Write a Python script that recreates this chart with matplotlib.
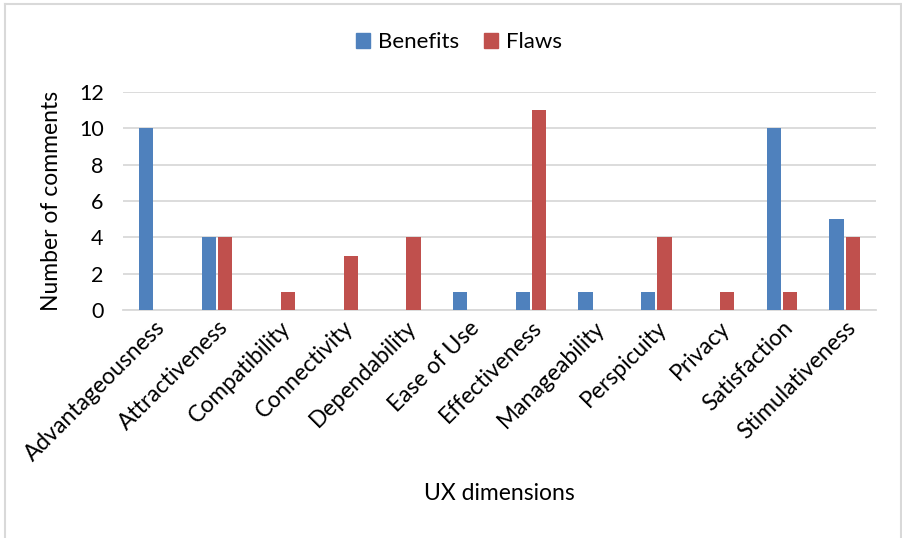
import matplotlib
matplotlib.use("Agg")
import matplotlib.pyplot as plt
import numpy as np
from matplotlib.lines import Line2D

plt.rcParams['font.family'] = ['Lato', 'DejaVu Sans']

categories = ["Advantageousness", "Attractiveness", "Compatibility", "Connectivity",
              "Dependability", "Ease of Use", "Effectiveness", "Manageability",
              "Perspicuity", "Privacy", "Satisfaction", "Stimulativeness"]
benefits = [10, 4, 0, 0, 0, 1, 1, 1, 1, 0, 10, 5]
flaws = [0, 4, 1, 3, 4, 0, 11, 0, 4, 1, 1, 4]
y_ticks = [0, 2, 4, 6, 8, 10, 12]

blue = "#4F81BD"
red = "#C0504D"

fig = plt.figure(figsize=(9.03, 5.38), dpi=100)
ax = fig.add_axes([123 / 903, 1 - 310 / 538, (876 - 123) / 903, (310 - 92) / 538])

x = np.arange(len(categories))
w = 0.23
ax.bar(x - 0.13, benefits, width=w, color=blue, label="Benefits", zorder=3)
ax.bar(x + 0.13, flaws, width=w, color=red, label="Flaws", zorder=3)

ax.set_xlim(-0.5, len(categories) - 0.5)
ax.set_ylim(0, 12)
ax.set_yticks(y_ticks)
ax.set_yticklabels([str(v) for v in y_ticks], fontsize=15.5)
ax.yaxis.grid(True, color="#D9D9D9", linewidth=1.3, zorder=0)
ax.set_axisbelow(True)
for s in ["top", "right", "left"]:
    ax.spines[s].set_visible(False)
ax.spines["bottom"].set_color("#D9D9D9")
ax.spines["bottom"].set_linewidth(1.3)
ax.tick_params(axis="y", length=0, pad=14)
ax.tick_params(axis="x", length=0, pad=5)

ax.set_xticks(x)
ax.set_xticklabels(categories, rotation=45, ha="right", rotation_mode="anchor", fontsize=16.5)

ax.set_ylabel("Number of comments", fontsize=16.5, labelpad=12)
fig.text(0.5 * (123 + 876) / 903, 1 - 493 / 538, "UX dimensions", fontsize=16.5,
         ha="center", va="center")

leg = fig.legend(handles=[plt.Rectangle((0, 0), 1, 1, color=blue),
                          plt.Rectangle((0, 0), 1, 1, color=red)],
                 labels=["Benefits", "Flaws"], loc="center",
                 bbox_to_anchor=(459 / 903, 1 - 42 / 538), ncol=2, frameon=False,
                 fontsize=16, handlelength=0.65, handleheight=0.65, handletextpad=0.35,
                 columnspacing=1.1)

# outer chart border
bc = "#D9D9D9"
fig.add_artist(Line2D([5 / 903, 5 / 903], [0, 1 - 4 / 538], transform=fig.transFigure, color=bc, lw=1.5))
fig.add_artist(Line2D([5 / 903, 901 / 903], [1 - 4 / 538, 1 - 4 / 538], transform=fig.transFigure, color=bc, lw=1.5))
fig.add_artist(Line2D([901 / 903, 901 / 903], [0, 1 - 4 / 538], transform=fig.transFigure, color=bc, lw=1.5))

fig.savefig("out.png", dpi=100)
